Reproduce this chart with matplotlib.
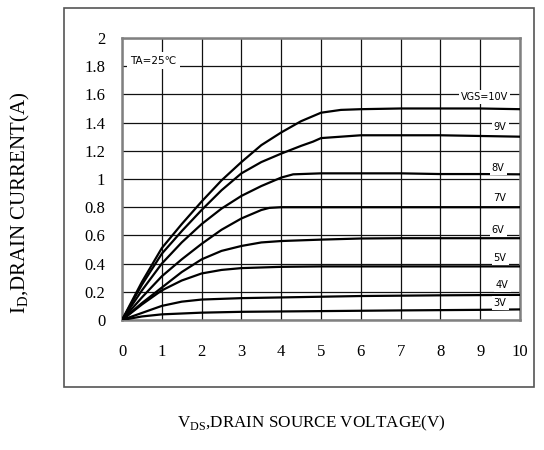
import matplotlib
matplotlib.use("Agg")
import matplotlib.pyplot as plt
from matplotlib.patches import Rectangle

# Output characteristics
vds_10v = [0, 0.5, 1, 1.5, 2, 2.5, 3, 3.5, 4, 4.5, 5, 5.5, 6, 7, 8, 9, 10]
id_10v = [0, 0.27, 0.51, 0.68, 0.84, 0.99, 1.12, 1.24, 1.33, 1.41, 1.47, 1.49, 1.495, 1.50, 1.50, 1.50, 1.495]

vds_9v = [0, 0.5, 1, 1.5, 2, 2.5, 3, 3.5, 4, 4.5, 4.8, 5, 6, 7, 8, 9, 10]
id_9v = [0, 0.25, 0.47, 0.63, 0.78, 0.92, 1.04, 1.12, 1.18, 1.235, 1.265, 1.29, 1.31, 1.31, 1.31, 1.305, 1.30]

vds_8v = [0, 0.5, 1, 1.5, 2, 2.5, 3, 3.5, 4, 4.3, 5, 6, 7, 8, 9, 10]
id_8v = [0, 0.21, 0.40, 0.55, 0.68, 0.79, 0.88, 0.95, 1.01, 1.033, 1.04, 1.04, 1.04, 1.035, 1.035, 1.033]

vds_7v = [0, 0.5, 1, 1.5, 2, 2.5, 3, 3.5, 3.7, 4, 5, 6, 7, 8, 9, 10]
id_7v = [0, 0.16, 0.31, 0.43, 0.54, 0.64, 0.72, 0.78, 0.795, 0.80, 0.80, 0.80, 0.80, 0.80, 0.80, 0.80]

vds_6v = [0, 0.5, 1, 1.5, 2, 2.5, 3, 3.5, 4, 5, 6, 7, 8, 9, 10]
id_6v = [0, 0.12, 0.23, 0.34, 0.43, 0.49, 0.525, 0.55, 0.56, 0.57, 0.578, 0.58, 0.58, 0.58, 0.58]

vds_5v = [0, 0.5, 1, 1.5, 2, 2.5, 3, 4, 5, 6, 7, 8, 9, 10]
id_5v = [0, 0.11, 0.21, 0.28, 0.33, 0.355, 0.368, 0.377, 0.38, 0.38, 0.38, 0.38, 0.38, 0.38]

vds_4v = [0, 0.5, 1, 1.5, 2, 3, 4, 5, 6, 8, 10]
id_4v = [0, 0.05, 0.10, 0.13, 0.145, 0.155, 0.16, 0.165, 0.17, 0.175, 0.178]

vds_3v = [0, 0.5, 1, 2, 3, 5, 7, 9, 10]
id_3v = [0, 0.025, 0.04, 0.052, 0.058, 0.063, 0.068, 0.072, 0.075]

curves = [(vds_10v, id_10v), (vds_9v, id_9v), (vds_8v, id_8v), (vds_7v, id_7v),
          (vds_6v, id_6v), (vds_5v, id_5v), (vds_4v, id_4v), (vds_3v, id_3v)]

curve_labels = ["VGS=10V", "9V", "8V", "7V", "6V", "5V", "4V", "3V"]
label_x = [9.1, 9.5, 9.45, 9.5, 9.45, 9.5, 9.55, 9.5]
label_y = [1.58, 1.37, 1.075, 0.865, 0.64, 0.44, 0.25, 0.12]

x_ticks = list(range(0, 11))
y_ticks = [0, 0.2, 0.4, 0.6, 0.8, 1, 1.2, 1.4, 1.6, 1.8, 2]
y_tick_labels = ["0", "0.2", "0.4", "0.6", "0.8", "1", "1.2", "1.4", "1.6", "1.8", "2"]

serif = "Liberation Serif"

fig = plt.figure(figsize=(5.44, 4.5), dpi=100)
ax = fig.add_axes([0.2243, 0.2889, 0.7316, 0.6267])

# outer frame around the whole chart
fig.patches.append(Rectangle((0.1176, 0.14), 0.864, 0.842, transform=fig.transFigure,
                             fill=False, edgecolor="#555555", linewidth=1.2))

for vds, ids in curves:
    ax.plot(vds, ids, color="black", linewidth=1.6, zorder=3)

for txt, lx, ly in zip(curve_labels, label_x, label_y):
    ax.text(lx, ly, txt, fontsize=7, family="DejaVu Sans", ha="center", va="center",
            zorder=4, bbox=dict(facecolor="white", edgecolor="none", pad=1.5))

ax.text(0.2, 1.84, "TA=25℃", fontsize=7.5, family="DejaVu Sans", ha="left", va="center",
        zorder=4, bbox=dict(facecolor="white", edgecolor="none", pad=2.5))

ax.set_xlim(0, 10)
ax.set_ylim(0, 2)
ax.set_xticks(x_ticks)
ax.set_yticks(y_ticks)
ax.set_yticklabels(y_tick_labels)
ax.tick_params(length=0, labelsize=12, pad=0)
ax.tick_params(axis="x", pad=17)
ax.tick_params(axis="y", pad=12)
for lab in ax.get_xticklabels() + ax.get_yticklabels():
    lab.set_family(serif)

ax.grid(True, color="#111111", linewidth=0.9)
ax.set_axisbelow(True)
for sp in ax.spines.values():
    sp.set_color("#808080")
    sp.set_linewidth(1.8)

fig.text(0.572, 0.06, r"V$_\mathregular{DS}$,DRAIN SOURCE VOLTAGE(V)", family=serif,
         fontsize=12.3, ha="center", va="center")
fig.text(0.037, 0.549, r"I$_\mathregular{D}$,DRAIN CURRENT(A)", family=serif,
         fontsize=15, ha="center", va="center", rotation=90)

fig.savefig("out.png", dpi=100)
